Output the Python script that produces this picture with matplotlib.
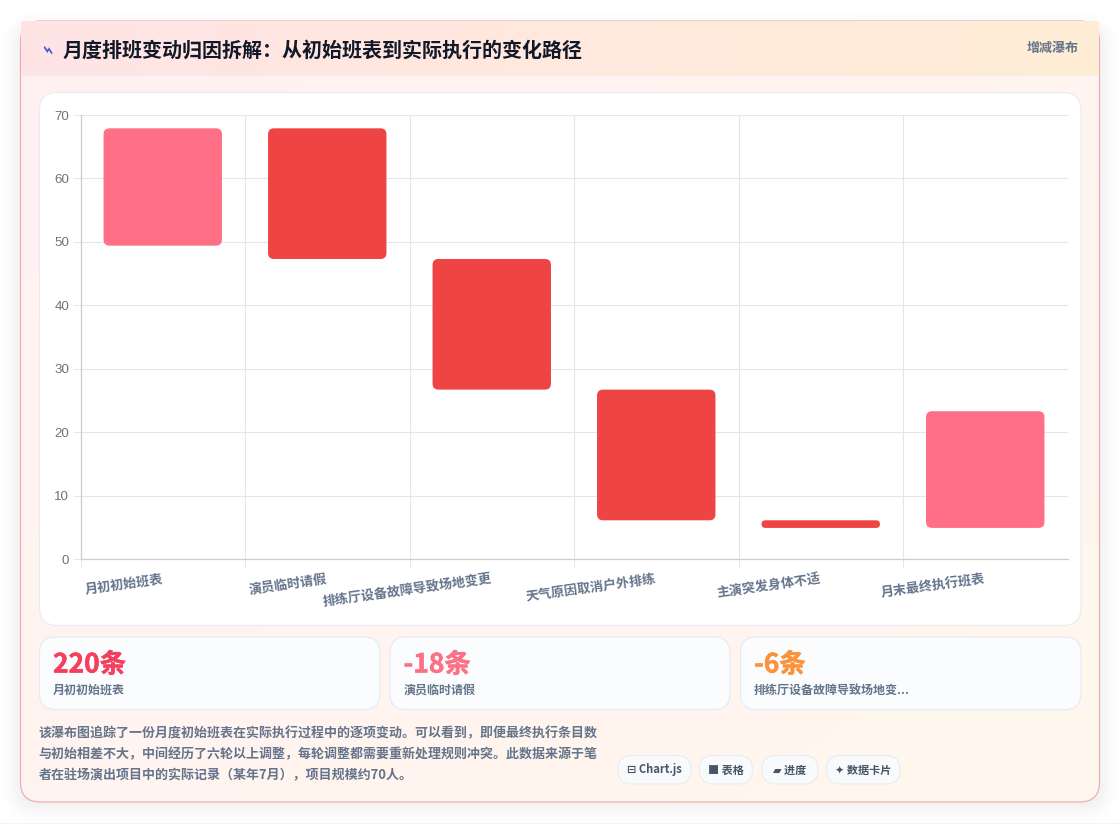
import numpy as np
import matplotlib
matplotlib.use("Agg")
import matplotlib.pyplot as plt
import matplotlib.patheffects as pe
from matplotlib.patches import FancyBboxPatch, Rectangle

plt.rcParams['font.family'] = ['Noto Sans CJK SC', 'DejaVu Sans']

categories = ["月初初始班表", "演员临时请假", "排练厅设备故障导致场地变更",
              "天气原因取消户外排练", "主演突发身体不适", "月末最终执行班表"]
bar_low = [49.4, 47.3, 26.7, 6.1, 4.9, 4.9]
bar_high = [67.9, 67.9, 47.3, 26.7, 6.1, 23.3]
bar_kind = ["total", "down", "down", "down", "down", "total"]
kpi_values = ["220条", "-18条", "-6条"]
kpi_labels = ["月初初始班表", "演员临时请假", "排练厅设备故障导致场地变..."]
pill_labels = ["⊟ Chart.js", "■ 表格", "▰ 进度", "✦ 数据卡片"]
note_lines = ["该瀑布图追踪了一份月度初始班表在实际执行过程中的逐项变动。可以看到，即便最终执行条目数",
              "与初始相差不大，中间经历了六轮以上调整，每轮调整都需要重新处理规则冲突。此数据来源于笔",
              "者在驻场演出项目中的实际记录（某年7月），项目规模约70人。"]

W, H = 1120, 824
PINK = "#ff7087"
RED = "#ef4444"
SLATE = "#64748b"


def rounded(ax, x0, y0, x1, y1, r, **kw):
    patch = FancyBboxPatch((x0, y0), x1 - x0, y1 - y0,
                           boxstyle="round,pad=0,rounding_size=%g" % r, **kw)
    ax.add_patch(patch)
    return patch


def gradient(ax, x0, y0, x1, y1, c0, c1, clip=None, diagonal=False):
    c0 = np.array(matplotlib.colors.to_rgb(c0))
    c1 = np.array(matplotlib.colors.to_rgb(c1))
    xx, yy = np.meshgrid(np.linspace(0, 1, 200), np.linspace(0, 1, 200))
    t = (xx + yy) / 2 if diagonal else xx
    img = c0 + (c1 - c0) * t[..., None]
    im = ax.imshow(img, extent=(x0, x1, y1, y0), aspect="auto", interpolation="bilinear")
    if clip is not None:
        im.set_clip_path(clip)
    return im


fig = plt.figure(figsize=(W / 100, H / 100), dpi=100, facecolor="white")

# page layer in pixel coordinates
bg = fig.add_axes([0, 0, 1, 1])
bg.set_xlim(0, W)
bg.set_ylim(H, 0)
bg.axis("off")

# soft card shadow
xx, yy = np.meshgrid(np.arange(W) + 0.5, np.arange(H) + 0.5)
dx = np.maximum(np.maximum(34 - xx, xx - 1086), 0)
dy = np.maximum(np.maximum(44 - yy, yy - 790), 0)
fall = np.clip(1 - np.hypot(dx, dy) / 40, 0, 1) ** 2
shadow = np.zeros((H, W, 4))
shadow[..., :3] = 0.06, 0.09, 0.16
shadow[..., 3] = 0.13 * fall
bg.imshow(shadow, extent=(0, W, H, 0), aspect="auto", zorder=1)
bg.set_xlim(0, W)
bg.set_ylim(H, 0)
bg.add_patch(Rectangle((0, 822.5), W, 1.5, fc="#f3f4f9", ec="none", zorder=1))

# main card with header band
card = rounded(bg, 20.5, 21, 1099.5, 802, 20, fc="none", ec="none", zorder=1)
gradient(bg, 20, 21, 1100, 802, "#fff1f2", "#fff7ed", clip=card, diagonal=True).set_zorder(2)
rounded(bg, 20.5, 21, 1099.5, 802, 20, fc="none", ec="#f2a6ae", lw=0.8, zorder=3)
gradient(bg, 21, 21.5, 1099, 75, "#ffe4e6", "#ffedd5").set_zorder(4)
bg.add_patch(Rectangle((21, 75), 1078, 1, fc="#f6e9ea", ec="none", zorder=4))

bg.text(47.5, 50, "⌁", color="#3f51d8", fontsize=15, ha="center", va="center",
        family=['DejaVu Sans'], rotation=-25, zorder=5)
bg.text(63, 50, "月度排班变动归因拆解：从初始班表到实际执行的变化路径", color="#111827",
        fontsize=14.4, fontweight="bold", va="center", zorder=5)
bg.text(1079, 48, "增减瀑布", color=SLATE, fontsize=9.4, fontweight="bold",
        ha="right", va="center", zorder=5)

# chart panel
rounded(bg, 39.5, 92.5, 1081, 625.5, 18, fc="white", ec="#e8ecf2", lw=0.8, zorder=5)

# metric cards
kpi_x = [(39.5, 380), (390, 730), (740.5, 1081)]
kpi_colors = ["#f43f5e", "#fb7185", "#fb923c"]
for (x0, x1), value, label, color in zip(kpi_x, kpi_values, kpi_labels, kpi_colors):
    rounded(bg, x0, 637, x1, 709.5, 16, fc="#fbfcfe", ec="#e4eaf4", lw=0.8, zorder=5)
    bg.text(x0 + 13.5, 665, value, color=color, fontsize=19, fontweight="bold", va="center",
            path_effects=[pe.withStroke(linewidth=0.4, foreground=color)], zorder=6)
    bg.text(x0 + 13.5, 690, label, color=SLATE, fontsize=8.65, fontweight="bold",
            va="center", zorder=6)

# footnote and tags
for y, line in zip([733.5, 754.5, 775], note_lines):
    bg.text(38.5, y, line, color=SLATE, fontsize=9.35, fontweight="bold", va="center", zorder=6)

pill_x = [(618, 691), (699.5, 752.5), (762, 818), (826.5, 900)]
for (x0, x1), label in zip(pill_x, pill_labels):
    rounded(bg, x0, 755.5, x1, 784, 14, fc="#f8fafc", ec="#e8edf3", lw=0.8, zorder=5)
    bg.text((x0 + x1) / 2, 770, label, color="#475569", fontsize=8, fontweight="bold",
            ha="center", va="center", zorder=6)

# waterfall axes
left, right = 80.5, 1067.5
ax = fig.add_axes([left / W, 1 - 559 / H, (right - left) / W, (559 - 115) / H], zorder=3)
ax.patch.set_alpha(0)
ax.set_xlim(-0.5, 5.5)
ax.set_ylim(0, 70)

px_x = (right - left) / 6
px_y = (559 - 115) / 70
bar_w = 0.72
for i, (low, high, kind) in enumerate(zip(bar_low, bar_high, bar_kind)):
    r = min(6, (high - low) * px_y / 2)
    p = FancyBboxPatch((i - bar_w / 2, low), bar_w, high - low,
                       boxstyle="round,pad=0,rounding_size=%g" % (r / px_x),
                       mutation_aspect=px_x / px_y,
                       fc=PINK if kind == "total" else RED, ec="none", zorder=3)
    ax.add_patch(p)

ax.set_yticks(range(0, 71, 10))
# vertical rules sit between categories, none at the far right
ax.set_xticks(np.arange(-0.5, 5, 1))
ax.set_xticklabels([])
ax.grid(True, color="#e3e6ea", lw=0.8, zorder=0)
ax.set_axisbelow(True)
ax.tick_params(axis="both", length=5.8, width=0.7, color="#e3e6ea")
ax.tick_params(axis="y", labelsize=9.6, labelcolor="#6b7280", pad=2.5)
for label in ax.get_yticklabels():
    label.set_family("Liberation Sans")
for side in ["top", "right"]:
    ax.spines[side].set_visible(False)
for side in ["left", "bottom"]:
    ax.spines[side].set_color("#c9cdd4")
    ax.spines[side].set_linewidth(0.9)

# category names sit rotated under each bar, anchored at their right end
for i, name in enumerate(categories):
    ax.annotate(name, xy=(i, 0), xycoords="data", xytext=(-0.8, -9.2), textcoords="offset points",
                rotation=8, rotation_mode="anchor", ha="right", va="top",
                color=SLATE, fontsize=9.45, fontweight="bold", annotation_clip=False)

fig.savefig("out.png", dpi=100)
